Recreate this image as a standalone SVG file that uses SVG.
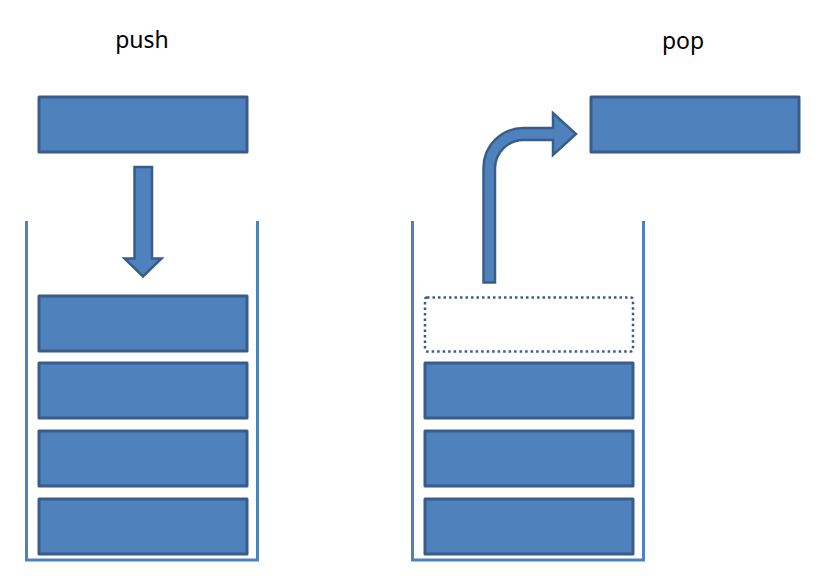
<svg xmlns="http://www.w3.org/2000/svg" width="824" height="586" viewBox="0 0 824 586">
<style>
.box{fill:#4f81bd;stroke:#385d8a;stroke-width:3;stroke-linejoin:round}
.empty{fill:none;stroke:#385d8a;stroke-width:2.5;stroke-dasharray:2.5 3}
.wall{fill:none;stroke:#4f81bd;stroke-width:3}
.arrow{fill:#4f81bd;stroke:#385d8a;stroke-width:2.5;stroke-linejoin:miter}
.lbl{font-family:"Noto Sans","Liberation Sans",sans-serif;font-size:23px;fill:#000;text-anchor:middle}
</style>
<rect width="824" height="586" fill="#fff"/>
<g id="label-push"><text class="lbl" x="142" y="48">push</text></g>
<g id="label-pop"><text class="lbl" x="683" y="49">pop</text></g>
<g id="push-container"><path class="wall" d="M26.5,221 V560 H257.5 V221"/></g>
<g id="pop-container"><path class="wall" d="M412.5,221 V560 H643.5 V221"/></g>
<g id="push-item"><rect class="box" x="39" y="97" width="208" height="55"/></g>
<g id="push-stack-1"><rect class="box" x="39" y="296" width="208" height="55"/></g>
<g id="push-stack-2"><rect class="box" x="39" y="363" width="208" height="55"/></g>
<g id="push-stack-3"><rect class="box" x="39" y="431" width="208" height="55"/></g>
<g id="push-stack-4"><rect class="box" x="39" y="499" width="208" height="55"/></g>
<g id="popped-item"><rect class="box" x="591" y="97" width="208" height="55"/></g>
<g id="pop-empty-slot"><rect class="empty" x="425" y="297.5" width="208" height="54" rx="2"/></g>
<g id="pop-stack-2"><rect class="box" x="425" y="363" width="208" height="55"/></g>
<g id="pop-stack-3"><rect class="box" x="425" y="431" width="208" height="55"/></g>
<g id="pop-stack-4"><rect class="box" x="425" y="499" width="208" height="55"/></g>
<g id="connectors">
<path class="arrow" d="M134.5,167 H152 V258.5 H161.5 L143,276.5 L124.5,258.5 H134.5 Z"/>
<path class="arrow" d="M483.5,282.5 V168 A40,40 0 0 1 523.5,128 H553 V113 L576,134 L553,155 V140 H523.5 A28.5,28.5 0 0 0 495,168.5 V282.5 Z"/>
</g>
</svg>
